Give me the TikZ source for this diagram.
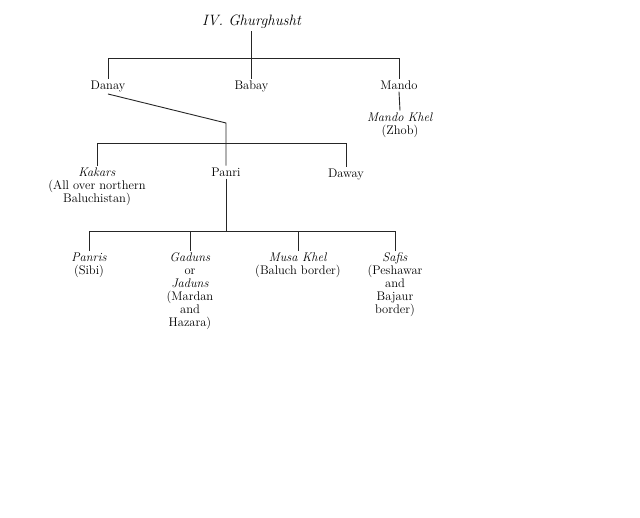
\documentclass[tikz,border=0pt]{standalone}
\begin{document}
\begin{tikzpicture}[x=1pt,y=-1pt,
  lbl/.style={font=\fontsize{12.5}{13}\selectfont, align=center, inner sep=2pt, anchor=north},
  ttl/.style={font=\fontsize{15}{18}\selectfont\itshape, inner sep=2pt},
  conn/.style={line width=0.9pt, black!85}]
\useasboundingbox[fill=white] (0,0) rectangle (640,517);
% title
\node[ttl] (title) at (251.5,22) {IV. Ghurghusht};
% level 1
\node[lbl] (danay) at (108,78.5) {Danay};
\node[lbl] (babay) at (251.5,78.5) {Babay};
\node[lbl] (mando) at (399,78.5) {Mando};
\node[lbl] (mandokhel) at (400,110.5) {\textit{Mando Khel}\\(Zhob)};
\coordinate (b1) at (0,58);
\draw[conn] (danay.north |- b1) -- (mando.north |- b1);
\draw[conn] (danay.north |- b1) -- (danay.north);
\draw[conn] (mando.north |- b1) -- (mando.north);
\draw[conn] (title.south) -- (babay.north);
\draw[conn] (mando.south) -- (mandokhel.north);
% level 2
\node[lbl] (kakars) at (97,165.5) {\textit{Kakars}\\(All over northern\\Baluchistan)};
\node[lbl] (panri) at (226,165.5) {Panri};
\node[lbl] (daway) at (346,166.5) {Daway};
\coordinate (bend) at (226,123);
\coordinate (b2) at (0,143);
\draw[conn] (danay.south) -- (bend) -- (panri.north);
\draw[conn] (kakars.north |- b2) -- (daway.north |- b2);
\draw[conn] (kakars.north |- b2) -- (kakars.north);
\draw[conn] (daway.north |- b2) -- (daway.north);
% level 3
\node[lbl] (panris) at (89,250.5) {\textit{Panris}\\(Sibi)};
\node[lbl] (gaduns) at (190,250.5) {\textit{Gaduns}\\or\\\textit{Jaduns}\\(Mardan\\and\\Hazara)};
\node[lbl] (musa) at (298,250.5) {\textit{Musa Khel}\\(Baluch border)};
\node[lbl] (safis) at (395,250.5) {\textit{Safis}\\(Peshawar\\and\\Bajaur\\border)};
\coordinate (b3) at (0,231);
\draw[conn] (panri.south) -- (panri.south |- b3);
\draw[conn] (panris.north |- b3) -- (safis.north |- b3);
\foreach \n in {panris,gaduns,musa,safis}
  \draw[conn] (\n.north |- b3) -- (\n.north);
\end{tikzpicture}
\end{document}
